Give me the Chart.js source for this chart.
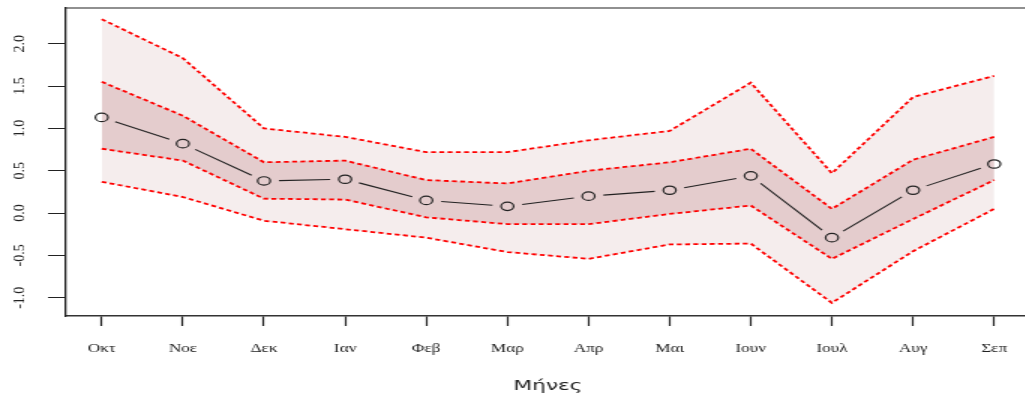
<!DOCTYPE html>
<html>
<head>
<meta charset="utf-8">
<script src="https://cdn.jsdelivr.net/npm/chart.js@4/dist/chart.umd.min.js"></script>
<style>
  html, body { margin: 0; padding: 0; background: #fff; overflow: hidden; }
  /* the reference is stretched sideways, so draw narrow and widen it */
  #wrap { width: 692px; height: 399px; transform: scaleX(1.5); transform-origin: 0 0; }
</style>
</head>
<body>
<div id="wrap"><canvas id="c" width="692" height="399"></canvas></div>
<script>
const STRETCH = 1.5;

const months = ['Οκτ', 'Νοε', 'Δεκ', 'Ιαν', 'Φεβ', 'Μαρ', 'Απρ', 'Μαι', 'Ιουν', 'Ιουλ', 'Αυγ', 'Σεπ'];
const mean       = [1.13, 0.82, 0.38, 0.40, 0.15, 0.08, 0.20, 0.27, 0.44, -0.29, 0.27, 0.58];
const innerUpper = [1.55, 1.15, 0.60, 0.62, 0.39, 0.35, 0.50, 0.60, 0.76, 0.05, 0.63, 0.90];
const innerLower = [0.76, 0.62, 0.17, 0.16, -0.05, -0.13, -0.13, -0.01, 0.09, -0.54, -0.07, 0.39];
const outerUpper = [2.29, 1.83, 1.00, 0.90, 0.72, 0.72, 0.86, 0.97, 1.54, 0.47, 1.37, 1.62];
const outerLower = [0.37, 0.19, -0.09, -0.19, -0.29, -0.46, -0.54, -0.37, -0.36, -1.06, -0.45, 0.05];

const yTicks = [-1, -0.5, 0, 0.5, 1, 1.5, 2];
const yTickLabels = ['-1.0', '-0.5', '0.0', '0.5', '1.0', '1.5', '2.0'];
const xTitle = 'Μήνες';

const pts = (arr) => arr.map((v, i) => ({ x: i + 1, y: v }));

const dashLine = (data, fill, bg) => ({
  data: pts(data),
  borderColor: '#ff0000',
  borderWidth: 1.8,
  borderDash: [3.3, 2.2],
  pointRadius: 0,
  fill: fill,
  backgroundColor: bg,
  tension: 0,
});

// R style type="b": segments stop short of the open circles
const gapLine = {
  id: 'gapLine',
  afterDatasetsDraw(chart) {
    const meta = chart.getDatasetMeta(0);
    const ctx = chart.ctx;
    const g = 10;
    ctx.save();
    ctx.strokeStyle = '#222';
    ctx.lineWidth = 1.1;
    for (let i = 0; i < meta.data.length - 1; i++) {
      const a = meta.data[i], b = meta.data[i + 1];
      const dx = b.x - a.x, dy = b.y - a.y;
      const d = Math.hypot(dx, dy);
      if (d <= 2 * g) continue;
      const ux = dx / d, uy = dy / d;
      ctx.beginPath();
      ctx.moveTo(a.x + ux * g, a.y + uy * g);
      ctx.lineTo(b.x - ux * g, b.y - uy * g);
      ctx.stroke();
    }
    ctx.restore();
  },
};

// top/right frame lines and rotated y labels
const frame = {
  id: 'frame',
  afterDraw(chart) {
    const { ctx, chartArea: a, scales } = chart;
    ctx.save();
    ctx.strokeStyle = '#222';
    ctx.lineWidth = 1.2;
    ctx.beginPath();
    ctx.moveTo(a.left, a.top);
    ctx.lineTo(a.right, a.top);
    ctx.lineTo(a.right, a.bottom);
    ctx.stroke();

    ctx.fillStyle = '#222';
    ctx.font = "14px 'Liberation Serif', serif";
    ctx.textAlign = 'center';
    ctx.textBaseline = 'middle';
    yTicks.forEach((v, i) => {
      const y = scales.y.getPixelForValue(v);
      ctx.save();
      ctx.translate(13.6, y);
      ctx.scale(1 / STRETCH, 1);
      ctx.rotate(-Math.PI / 2);
      ctx.fillText(yTickLabels[i], 0, 0);
      ctx.restore();
    });
    ctx.restore();
  },
};

new Chart(document.getElementById('c'), {
  type: 'line',
  data: {
    datasets: [
      {
        data: pts(mean),
        showLine: false,
        pointStyle: 'circle',
        pointRadius: 4.2,
        pointBorderWidth: 1.2,
        pointBorderColor: '#222',
        pointBackgroundColor: 'rgba(0,0,0,0)',
        fill: false,
      },
      dashLine(innerUpper, '+1', '#e4cccd'),
      dashLine(innerLower, false, 'rgba(0,0,0,0)'),
      dashLine(outerUpper, '+1', '#f5eded'),
      dashLine(outerLower, false, 'rgba(0,0,0,0)'),
    ],
  },
  options: {
    responsive: false,
    animation: false,
    devicePixelRatio: 1,
    layout: { padding: { top: 8, right: 2, left: 0, bottom: 0 } },
    plugins: {
      legend: { display: false },
      tooltip: { enabled: false },
      filler: { drawTime: 'beforeDatasetsDraw' },
    },
    scales: {
      x: {
        type: 'linear',
        min: 0.56,
        max: 12.44,
        afterBuildTicks: (s) => { s.ticks = months.map((m, i) => ({ value: i + 1 })); },
        afterFit: (s) => { s.height = 83; },
        border: { display: true, color: '#333', width: 1.4 },
        grid: { drawOnChartArea: false, drawTicks: true, tickLength: 10, color: '#222', tickWidth: 1.2 },
        ticks: {
          autoSkip: false,
          maxRotation: 0,
          padding: 16,
          color: '#222',
          font: { family: "'Liberation Serif', serif", size: 11.5 },
          callback: (v) => months[v - 1],
        },
        title: {
          display: true,
          text: xTitle,
          color: '#222',
          font: { family: "'DejaVu Sans', sans-serif", size: 14.5 },
          padding: { top: 0, bottom: 4 },
        },
      },
      y: {
        min: -1.215,
        max: 2.422,
        afterBuildTicks: (s) => { s.ticks = yTicks.map((v) => ({ value: v })); },
        afterFit: (s) => { s.width = 44; },
        border: { display: true, color: '#222', width: 1.3 },
        grid: { drawOnChartArea: false, drawTicks: true, tickLength: 12, color: '#222', tickWidth: 1 },
        ticks: { display: false },
      },
    },
  },
  plugins: [gapLine, frame],
});
</script>
</body>
</html>
